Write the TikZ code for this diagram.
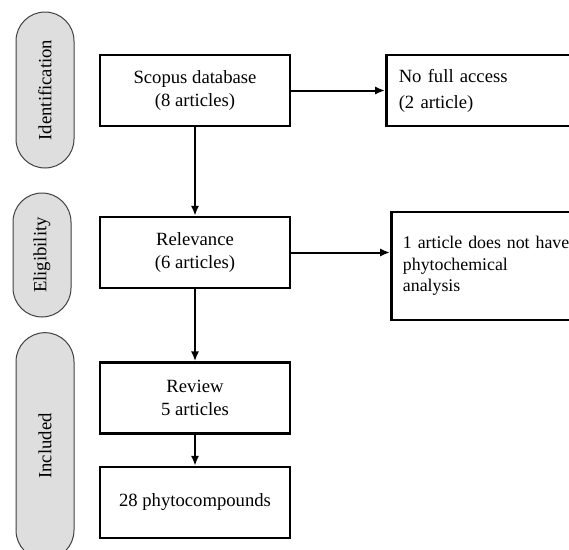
\documentclass[tikz,border=0pt]{standalone}
\usepackage{fontspec}
\setmainfont{Liberation Serif}
\usetikzlibrary{arrows.meta}

\begin{document}
\begin{tikzpicture}[x=0.6pt, y=-0.6pt, font=\fontsize{11.2}{13.5}\selectfont, >=Stealth,
  stage/.style={draw=black!75, line width=0.6pt, fill=black!13, rotate=90,
    minimum height=34.8pt, rounded corners=17.4pt, inner sep=0pt},
  stepbox/.style={draw, line width=1.5pt, minimum width=114pt,
    minimum height=42.6pt, align=center, inner sep=2pt},
  sidebox/.style={draw, line width=1.5pt, anchor=west, text width=118pt,
    inner xsep=7.5pt, align=left},
  link/.style={line width=1.2pt, -{Latex[length=6pt,width=5pt]}}]
  \useasboundingbox (0,0) rectangle (569,550);
  \clip (0,0) rectangle (569,550);
  % stages on the left
  \node[stage, minimum width=93.6pt] (ident) at (45,90)  {Identification};
  \node[stage, minimum width=74.4pt] (elig)  at (42,255) {Eligibility};
  \node[stage, minimum width=136pt]  (incl)  at (45,446) {Included};
  % main column
  \node[stepbox] (scopus)  at (195,90.5)  {Scopus database\\(8 articles)};
  \node[stepbox] (relev)   at (195,252.5) {Relevance\\(6 articles)};
  \node[stepbox] (review)  at (195,398)   {Review\\5 articles};
  \node[stepbox] (compnd)  at (195,502.5) {28 phytocompounds};
  % excluded records
  \node[sidebox, minimum height=42.6pt] (noacc) at (385,90.5)
    {No full access\\[2pt](2 article)};
  \node[sidebox, minimum height=64.8pt, inner xsep=7pt,
    font=\fontsize{10.7}{13}\selectfont] (nophyto) at (390,266)
    {1 article does not have\\phytochemical\\analysis};
  % arrows
  \draw[link] (scopus) -- (relev);
  \draw[link] (relev) -- (review);
  \draw[link] (review) -- (compnd);
  \draw[link] (scopus.east) -- (noacc.west);
  \draw[link] (relev.east) -- (relev.east -| nophyto.west);
\end{tikzpicture}
\end{document}
